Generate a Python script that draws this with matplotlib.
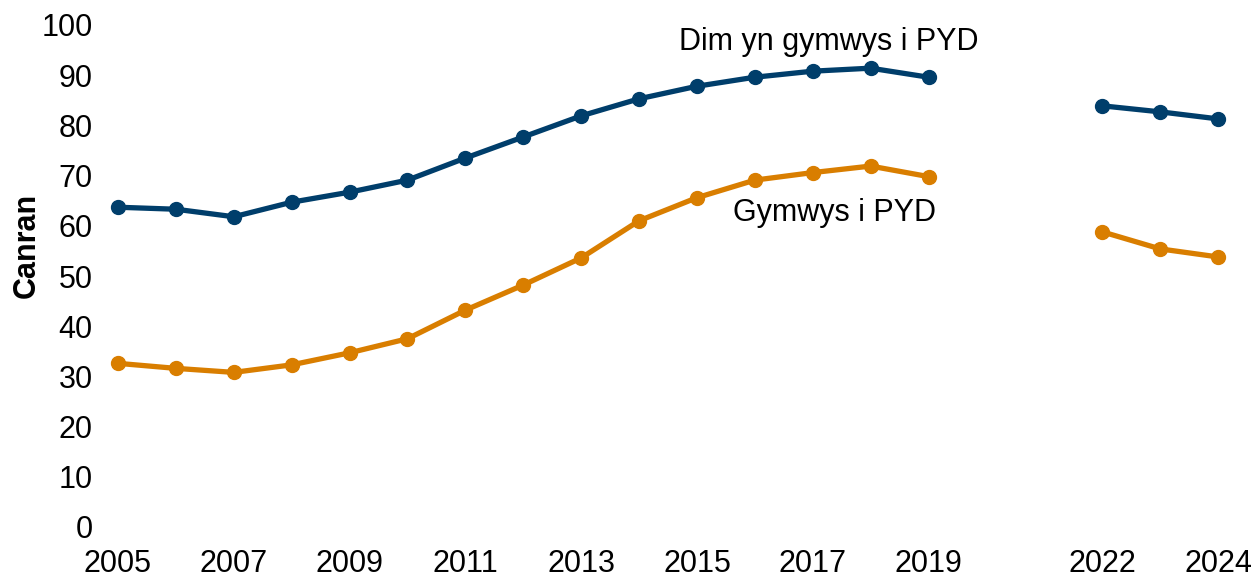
import numpy as np
import matplotlib
matplotlib.use("Agg")
import matplotlib.pyplot as plt

plt.rcParams['font.family'] = ['Liberation Sans', 'DejaVu Sans']

years = [2005, 2006, 2007, 2008, 2009, 2010, 2011, 2012, 2013, 2014, 2015, 2016,
         2017, 2018, 2019, 2020, 2021, 2022, 2023, 2024]
not_eligible = [63.7, 63.3, 61.8, 64.7, 66.7, 69.1, 73.5, 77.7, 81.9, 85.3, 87.8, 89.6,
                90.8, 91.4, 89.6, np.nan, np.nan, 83.9, 82.7, 81.3]
eligible = [32.6, 31.6, 30.8, 32.3, 34.7, 37.5, 43.2, 48.2, 53.6, 61.0, 65.6, 69.1,
            70.6, 71.9, 69.8, np.nan, np.nan, 58.8, 55.4, 53.8]
xticks = [2005, 2007, 2009, 2011, 2013, 2015, 2017, 2019, 2022, 2024]
yticks = list(range(0, 101, 10))

label_not = "Dim yn gymwys i PYD"
label_el = "Gymwys i PYD"
ylabel = "Canran"

blue = "#003E6B"
orange = "#D97E00"

W, H = 1253, 578
fig = plt.figure(figsize=(W / 100, H / 100), dpi=100)
pxy = 57.9
x0 = 2005 - 0.2
x1 = 2024 + 0.2
left_px = 118 - 0.2 * pxy
right_px = 1218 + 0.2 * pxy
ax = fig.add_axes([left_px / W, (H - 527) / H, (right_px - left_px) / W, 502 / H])

ax.plot(years, not_eligible, color=blue, lw=3.8, marker='o', ms=10, clip_on=False)
ax.plot(years, eligible, color=orange, lw=3.8, marker='o', ms=10, clip_on=False)

ax.set_xlim(x0, x1)
ax.set_ylim(0, 100)
ax.set_xticks(xticks)
ax.set_xticklabels([str(t) for t in xticks])
ax.set_yticks(yticks)
for s in ax.spines.values():
    s.set_visible(False)
ax.tick_params(axis='both', length=0, labelsize=22, colors='black')
ax.tick_params(axis='y', pad=10)
ax.tick_params(axis='x', pad=16)

ax.text(2017.28, 96.6, label_not, fontsize=22, ha='center', va='center', color='black')
ax.text(2017.38, 62.6, label_el, fontsize=22, ha='center', va='center', color='black')

fig.text(27 / W, 1 - 245 / H, ylabel, fontsize=22, fontweight='bold', rotation=90,
         ha='center', va='center')

fig.savefig("out.png", dpi=100)
